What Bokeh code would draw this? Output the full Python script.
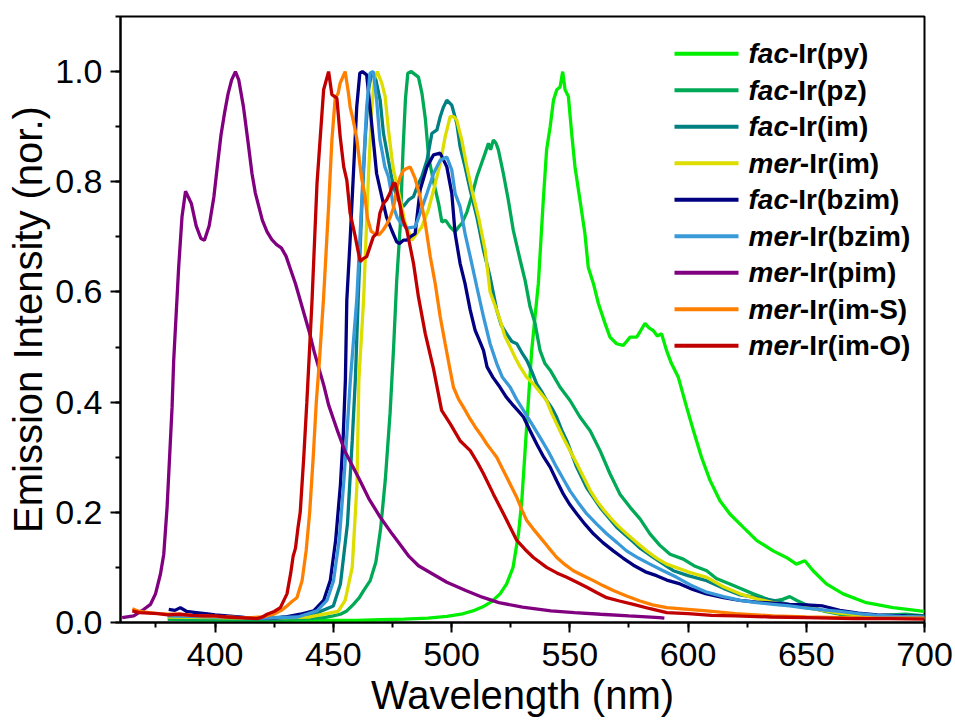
from bokeh.plotting import figure
from bokeh.models import Range1d, SingleIntervalTicker, PrintfTickFormatter, Label
from bokeh.embed import file_html
from bokeh.resources import INLINE

# ---------------- emission spectra (wavelength in nm, normalised intensity) ----------------
py_wl = [380, 390, 400, 410, 420, 430, 440, 450, 460, 470, 480, 490, 498, 504, 509, 513, 517, 520.5,
         523.3, 526, 528.3, 529.7, 531.1, 532.5, 533.9, 535.3, 536.7, 538.8, 540.2, 541.7, 543.1, 544.5,
         545.9, 547, 548, 549.4, 550.8, 552.2, 554.3, 556.4, 557.8, 560, 562.1, 564.9, 567, 569.8, 572.6,
         574, 575.5, 578.3, 580, 581.8, 583.5, 585.3, 587, 588.8, 590.9, 593, 595.9, 599.4, 602.3, 605.7,
         609.3, 613.5, 617.7, 623.3, 629, 636, 641.6, 645.8, 649.4, 652.9, 658.5, 665.6, 675.4, 686.7, 698, 700]
py_int = [0.006, 0.005, 0.004, 0.004, 0.004, 0.004, 0.004, 0.004, 0.004, 0.005, 0.006, 0.008, 0.011, 0.015,
          0.021, 0.028, 0.038, 0.052, 0.07, 0.1, 0.161, 0.221, 0.312, 0.403, 0.494, 0.555, 0.615, 0.767, 0.858,
          0.9, 0.948, 0.967, 0.972, 1.0, 0.967, 0.955, 0.888, 0.827, 0.767, 0.706, 0.645, 0.615, 0.579, 0.543,
          0.518, 0.506, 0.503, 0.51, 0.518, 0.518, 0.53, 0.543, 0.535, 0.53, 0.52, 0.524, 0.494, 0.47, 0.445,
          0.391, 0.348, 0.3, 0.258, 0.221, 0.197, 0.173, 0.149, 0.13, 0.118, 0.106, 0.112, 0.094, 0.07, 0.052,
          0.036, 0.027, 0.021, 0.02]

pz_wl = [380, 400, 420, 440, 446, 450, 453, 455.7, 458.5, 461, 462.8, 465.6, 468, 470, 472, 474, 475.5,
         476.8, 478.3, 479.5, 480.5, 481.5, 483, 484.5, 486, 487.5, 488.9, 490.3, 492.4, 494.5, 495.9, 497.5,
         499.4, 501.5, 503, 504.3, 506.5, 508.6, 510.7, 512.8, 514.2, 515.6, 516.5, 517.7, 518.8, 519.8,
         521.9, 524, 526.1, 529, 531.1, 533.2, 535.3, 537.4, 539.5, 541.7, 545.9, 550.1, 554.3, 558.6, 562.8,
         567, 571.2, 575.5, 579.7, 583.9, 588.1, 592.4, 598, 603, 607.9, 612, 617.7, 622, 627.6, 632, 636,
         640, 643, 646, 649, 653, 658, 664, 672, 678, 686, 692, 700]
pz_int = [0.006, 0.005, 0.005, 0.007, 0.009, 0.012, 0.015, 0.021, 0.033, 0.045, 0.058, 0.076, 0.11, 0.17,
          0.26, 0.38, 0.5, 0.62, 0.72, 0.86, 0.95, 0.997, 1.0, 0.995, 0.99, 0.96, 0.915, 0.845, 0.8, 0.761,
          0.727, 0.73, 0.718, 0.709, 0.718, 0.724, 0.745, 0.775, 0.809, 0.835, 0.852, 0.87, 0.858, 0.876, 0.87,
          0.858, 0.815, 0.767, 0.712, 0.658, 0.621, 0.573, 0.543, 0.494, 0.47, 0.458, 0.427, 0.403, 0.373,
          0.348, 0.312, 0.27, 0.233, 0.209, 0.188, 0.161, 0.14, 0.124, 0.115, 0.102, 0.094, 0.08, 0.07, 0.062,
          0.052, 0.045, 0.039, 0.042, 0.047, 0.04, 0.034, 0.027, 0.02, 0.015, 0.013, 0.012, 0.014, 0.015, 0.012]

im_wl = [380, 400, 420, 440, 450, 453, 456, 458, 459.3, 460.5, 462, 463.5, 465, 466.3, 468, 469.8, 471.2,
         473.3, 475.4, 477.5, 479.6, 481.8, 483.9, 486, 487.4, 489.6, 491.7, 493.8, 495.2, 496.5, 498, 500.1,
         502.2, 503.6, 505.7, 507.9, 510.7, 513.5, 516.3, 519.1, 521, 523.3, 525.5, 527.6, 529.7, 531.8, 534,
         536, 538, 540.2, 542.3, 544.4, 546.5, 548.7, 552.9, 557.1, 562.8, 569.8, 576.9, 580, 585.3, 593.8,
         600, 607.9, 615, 622, 629, 636, 643, 650, 657, 664, 672, 680, 690, 700]
im_int = [0.012, 0.01, 0.008, 0.012, 0.03, 0.07, 0.18, 0.33, 0.44, 0.585, 0.75, 0.88, 0.97, 1.0, 0.985,
          0.948, 0.888, 0.839, 0.791, 0.767, 0.755, 0.767, 0.773, 0.797, 0.809, 0.839, 0.888, 0.894, 0.918,
          0.935, 0.948, 0.939, 0.906, 0.864, 0.827, 0.785, 0.736, 0.676, 0.627, 0.567, 0.54, 0.524, 0.51,
          0.506, 0.49, 0.476, 0.455, 0.433, 0.42, 0.403, 0.39, 0.373, 0.35, 0.33, 0.282, 0.245, 0.209, 0.173,
          0.146, 0.134, 0.118, 0.094, 0.085, 0.076, 0.062, 0.05, 0.045, 0.04, 0.032, 0.027, 0.022, 0.018,
          0.015, 0.013, 0.011, 0.01]

mim_wl = [380, 400, 420, 440, 452, 455, 458, 460, 460.8, 462.8, 464.9, 466.3, 467.5, 468.6, 470.5, 471.9,
          473.3, 474.7, 475.5, 476.8, 478.3, 480.4, 481.8, 483.2, 485.3, 487.4, 490.2, 492.4, 495.2, 497.3,
          499.4, 501, 502.2, 504.3, 506.5, 508.6, 511.4, 514.2, 516.3, 519.1, 520.5, 522.5, 524.8, 527, 529,
          531.8, 534.6, 537.4, 540.2, 542.3, 544.4, 547.3, 550.1, 553, 555.8, 558.6, 561.4, 564.2, 567, 570.5,
          574, 578.3, 582.5, 586.7, 591, 600, 607.9, 615, 622, 629, 636, 643, 650, 657, 664, 672, 680, 690, 700]
mim_int = [0.01, 0.009, 0.008, 0.01, 0.02, 0.04, 0.1, 0.25, 0.44, 0.585, 0.815, 0.936, 0.99, 1.0, 0.979,
           0.955, 0.895, 0.845, 0.82, 0.797, 0.767, 0.724, 0.71, 0.694, 0.706, 0.718, 0.749, 0.785, 0.833,
           0.882, 0.918, 0.918, 0.912, 0.876, 0.827, 0.785, 0.736, 0.676, 0.6, 0.567, 0.549, 0.52, 0.5, 0.48,
           0.464, 0.445, 0.433, 0.418, 0.403, 0.38, 0.361, 0.335, 0.312, 0.288, 0.264, 0.24, 0.221, 0.205,
           0.191, 0.175, 0.161, 0.145, 0.13, 0.117, 0.106, 0.092, 0.082, 0.065, 0.052, 0.043, 0.036, 0.031,
           0.027, 0.022, 0.017, 0.014, 0.012, 0.01, 0.009]

bz_wl = [380.4, 383, 385.3, 388, 392, 396, 400, 405, 410, 415, 420, 425, 430, 436, 441.7, 445.9, 448.7, 451,
         453, 454.2, 455.1, 455.7, 457.1, 458.5, 459.9, 461.2, 462.3, 464.1, 465.5, 466.9, 468.3, 470.5, 472.5,
         474.7, 476.8, 478, 479.6, 481.1, 482.5, 484.6, 486.7, 489.6, 492.4, 495.2, 498, 500.1, 501.5, 503.6,
         505.7, 507.9, 510, 511.5, 513.5, 515, 517.5, 520.5, 523, 525.5, 528, 530.4, 533, 536, 539, 541.7,
         544.5, 547.3, 550, 553, 556.5, 560, 564, 568.4, 572.5, 576.9, 582, 586.7, 591, 596.6, 602, 607.8,
         615, 622, 629, 636, 643, 650, 657, 664.2, 672, 680, 692.4, 700]
bz_int = [0.024, 0.022, 0.027, 0.02, 0.018, 0.016, 0.014, 0.012, 0.01, 0.008, 0.008, 0.008, 0.01, 0.015,
          0.021, 0.04, 0.076, 0.15, 0.25, 0.34, 0.44, 0.585, 0.694, 0.815, 0.936, 0.997, 1.0, 0.994, 0.936,
          0.876, 0.815, 0.773, 0.736, 0.712, 0.691, 0.688, 0.694, 0.694, 0.7, 0.706, 0.785, 0.827, 0.849, 0.852,
          0.827, 0.779, 0.706, 0.652, 0.615, 0.567, 0.53, 0.515, 0.494, 0.464, 0.445, 0.427, 0.41, 0.397,
          0.385, 0.373, 0.35, 0.324, 0.3, 0.282, 0.257, 0.233, 0.214, 0.197, 0.178, 0.161, 0.145, 0.13, 0.117,
          0.104, 0.092, 0.085, 0.077, 0.07, 0.06, 0.052, 0.045, 0.04, 0.037, 0.035, 0.033, 0.032, 0.03, 0.022,
          0.017, 0.014, 0.012, 0.011]

mbz_wl = [380, 400, 420, 435, 443.1, 447.3, 450.1, 452.5, 454.5, 456, 457.2, 459.9, 461.2, 462.6, 464.1,
          465.5, 466.9, 468.3, 469.7, 470.5, 471.8, 473.3, 474.5, 475.4, 477, 478.3, 481.1, 484.6, 486.7,
          489.6, 492.4, 495.2, 498, 500.1, 501.5, 503.6, 505.7, 507.9, 510.7, 513.5, 516.3, 519.1, 521.5,
          524.8, 527.5, 530.4, 534, 537.4, 541, 544.4, 547.3, 550.1, 553.5, 557.2, 561.5, 565.6, 570, 574, 579,
          583.9, 589.5, 595.2, 601, 607.9, 615, 622, 629, 636, 643, 650, 657, 664, 672, 680, 690, 700]
mbz_int = [0.012, 0.01, 0.008, 0.01, 0.021, 0.04, 0.076, 0.15, 0.26, 0.36, 0.44, 0.585, 0.694, 0.815, 0.936,
           0.997, 1.0, 0.95, 0.876, 0.858, 0.827, 0.809, 0.78, 0.755, 0.735, 0.727, 0.716, 0.718, 0.743, 0.779,
           0.815, 0.839, 0.845, 0.821, 0.779, 0.755, 0.706, 0.664, 0.609, 0.555, 0.506, 0.47, 0.445, 0.427,
           0.405, 0.385, 0.36, 0.336, 0.31, 0.282, 0.26, 0.239, 0.218, 0.197, 0.178, 0.161, 0.145, 0.13, 0.117,
           0.106, 0.094, 0.082, 0.068, 0.055, 0.047, 0.04, 0.036, 0.033, 0.03, 0.026, 0.023, 0.02, 0.016,
           0.013, 0.011, 0.01]

pim_wl = [360.7, 365.6, 369.9, 372.7, 374.8, 376.9, 378.3, 379.7, 381.8, 382.5, 384.6, 386, 387.5, 390, 392,
          394, 395.5, 397.5, 399.5, 401, 402.5, 404, 405.5, 407, 408.6, 410, 412, 414, 415.6, 417, 418.5, 420,
          422, 424, 426, 428, 430, 432, 434, 436, 438, 440, 442, 444, 446, 448, 450, 452, 455, 458, 461, 465,
          470, 475, 478, 482, 486, 492, 498, 506, 513, 520, 530, 542, 552, 563, 575, 588, 590]
pim_int = [0.009, 0.012, 0.024, 0.033, 0.052, 0.088, 0.124, 0.209, 0.39, 0.476, 0.645, 0.736, 0.783, 0.76,
           0.72, 0.697, 0.694, 0.72, 0.773, 0.83, 0.885, 0.925, 0.96, 0.985, 1.0, 0.985, 0.936, 0.87, 0.815,
           0.78, 0.755, 0.73, 0.709, 0.695, 0.686, 0.68, 0.665, 0.64, 0.615, 0.585, 0.555, 0.525, 0.49, 0.46,
           0.43, 0.395, 0.37, 0.345, 0.31, 0.285, 0.26, 0.225, 0.19, 0.16, 0.143, 0.12, 0.103, 0.088, 0.073,
           0.058, 0.046, 0.036, 0.028, 0.021, 0.018, 0.015, 0.012, 0.009, 0.008]

ims_wl = [365, 368, 372, 376, 380, 385, 390, 395, 400, 405, 410, 415, 420, 424.8, 428, 430.4, 432.5, 434.6,
          436.8, 438.5, 440, 441.5, 442.8, 444.2, 445.9, 448, 449.4, 450.8, 452, 452.9, 454, 455, 456.4, 457.1,
          458.5, 459.9, 461, 462, 463.4, 464.4, 466, 467.5, 469.4, 471, 472.5, 474, 475.4, 477, 478.3, 479.7,
          481, 482.5, 484.6, 486.7, 488.9, 491, 493.1, 495.2, 497.3, 499.4, 500.8, 503, 505, 507.5, 510, 512.5,
          514.9, 517, 519.1, 521.2, 523.3, 525.5, 527.6, 529.7, 531.8, 534.5, 537.4, 541, 544.5, 548, 551.5,
          555.7, 560, 564, 568.4, 574, 579.7, 585, 591, 600, 607.9, 620, 636, 650, 665, 680, 700]
ims_int = [0.025, 0.02, 0.018, 0.016, 0.015, 0.015, 0.013, 0.012, 0.011, 0.01, 0.009, 0.009, 0.01, 0.015,
           0.022, 0.03, 0.038, 0.045, 0.076, 0.13, 0.2, 0.3, 0.4, 0.48, 0.591, 0.755, 0.876, 0.952, 0.96, 0.979,
           0.99, 1.0, 0.961, 0.936, 0.91, 0.879, 0.84, 0.806, 0.773, 0.735, 0.71, 0.706, 0.704, 0.712, 0.722,
           0.735, 0.752, 0.79, 0.809, 0.821, 0.824, 0.827, 0.806, 0.773, 0.724, 0.664, 0.615, 0.555, 0.506,
           0.458, 0.427, 0.405, 0.391, 0.372, 0.355, 0.34, 0.324, 0.312, 0.3, 0.282, 0.264, 0.245, 0.227, 0.205,
           0.185, 0.17, 0.155, 0.136, 0.118, 0.105, 0.094, 0.085, 0.076, 0.067, 0.058, 0.048, 0.039, 0.032,
           0.027, 0.024, 0.021, 0.016, 0.012, 0.01, 0.009, 0.008, 0.008]

imo_wl = [365, 368, 372, 376, 380, 385, 390, 395, 400, 405, 410, 415, 417.7, 420, 422, 425, 427.6, 430.4,
          432, 433, 434, 435, 436, 437.5, 438.8, 440, 441, 443.1, 445.9, 448, 449.4, 451.5, 452.9, 454.4,
          455.7, 457.1, 459.3, 460.2, 461.4, 462.5, 464.1, 466.9, 468.4, 469.7, 471.2, 472.5, 474, 475.3, 476.2,
          478.1, 479.5, 481.1, 483.9, 486, 488.9, 492.4, 495.8, 499.4, 503.6, 507.9, 511, 513.5, 517.7, 522,
          524.8, 527.6, 531, 534.6, 540.2, 544.5, 548.7, 553, 557.2, 561.5, 565.6, 571, 576.9, 584, 591, 600,
          610, 620, 635, 650, 670, 685, 700]
imo_int = [0.021, 0.018, 0.017, 0.016, 0.014, 0.015, 0.013, 0.012, 0.012, 0.01, 0.009, 0.008, 0.007, 0.01,
           0.015, 0.02, 0.027, 0.052, 0.09, 0.12, 0.135, 0.17, 0.2, 0.3, 0.4, 0.5, 0.585, 0.797, 0.967, 1.0,
           0.958, 0.952, 0.882, 0.827, 0.803, 0.743, 0.7, 0.68, 0.655, 0.66, 0.664, 0.7, 0.706, 0.743, 0.761,
           0.767, 0.78, 0.797, 0.797, 0.76, 0.73, 0.712, 0.652, 0.591, 0.524, 0.46, 0.385, 0.361, 0.33, 0.312,
           0.29, 0.27, 0.233, 0.197, 0.173, 0.149, 0.133, 0.118, 0.1, 0.09, 0.082, 0.073, 0.064, 0.054, 0.045,
           0.039, 0.033, 0.025, 0.018, 0.016, 0.013, 0.012, 0.01, 0.009, 0.007, 0.007, 0.006]

# legend entries: (isomer prefix, complex, colour, wavelengths, intensities)
series = [
    ("fac", "-Ir(py)", "#00EE00", py_wl, py_int),
    ("fac", "-Ir(pz)", "#00A955", pz_wl, pz_int),
    ("fac", "-Ir(im)", "#008080", im_wl, im_int),
    ("mer", "-Ir(im)", "#DDDD00", mim_wl, mim_int),
    ("fac", "-Ir(bzim)", "#000080", bz_wl, bz_int),
    ("mer", "-Ir(bzim)", "#3A9AD9", mbz_wl, mbz_int),
    ("mer", "-Ir(pim)", "#800080", pim_wl, pim_int),
    ("mer", "-Ir(im-S)", "#FF8000", ims_wl, ims_int),
    ("mer", "-Ir(im-O)", "#C00000", imo_wl, imo_int),
]

X_START, X_END = 360, 700
Y_START, Y_END = 0.0, 1.1
FONT = "Liberation Sans"

# canvas geometry (pixels)
W, H = 955, 720
LEFT, RIGHT, TOP, BOTTOM = 120, 31, 16, 98
FRAME_W = W - LEFT - RIGHT
FRAME_H = H - TOP - BOTTOM

p = figure(width=W, height=H, output_backend="svg", toolbar_location=None,
           x_range=Range1d(X_START, X_END), y_range=Range1d(Y_START, Y_END),
           min_border_left=LEFT, min_border_right=RIGHT,
           min_border_top=TOP, min_border_bottom=BOTTOM)
p.background_fill_color = "white"
p.border_fill_color = "white"
p.outline_line_color = "black"
p.outline_line_width = 2
p.xgrid.visible = False
p.ygrid.visible = False

p.xaxis.ticker = SingleIntervalTicker(interval=50, num_minor_ticks=2)
p.yaxis.ticker = SingleIntervalTicker(interval=0.2, num_minor_ticks=2)
p.yaxis.formatter = PrintfTickFormatter(format="%.1f")
p.xaxis.axis_label = "Wavelength (nm)"
p.yaxis.axis_label = "Emission Intensity (nor.)"

for ax in (p.xaxis, p.yaxis):
    ax.axis_line_color = "black"
    ax.axis_line_width = 2
    ax.major_tick_line_color = "black"
    ax.major_tick_line_width = 2
    ax.minor_tick_line_color = "black"
    ax.minor_tick_line_width = 2
    ax.major_tick_out = 10
    ax.major_tick_in = 0
    ax.minor_tick_out = 5
    ax.minor_tick_in = 0
    ax.major_label_text_font = FONT
    ax.major_label_text_font_size = "34px"
    ax.major_label_text_color = "black"
    ax.axis_label_text_font = FONT
    ax.axis_label_text_font_size = "40px"
    ax.axis_label_text_font_style = "normal"
    ax.axis_label_text_color = "black"

p.xaxis.major_label_standoff = 10
p.xaxis.axis_label_standoff = 4
p.yaxis.major_label_standoff = 8
p.yaxis.axis_label_standoff = 2

for prefix, name, color, wl, inten in series:
    p.line(wl, inten, line_color=color, line_width=3.3)


# legend drawn in data space (the ranges are fixed)
def px_x(px):
    return X_START + (px - LEFT) * (X_END - X_START) / FRAME_W


def px_y(py):
    return Y_END - (py - TOP) * (Y_END - Y_START) / FRAME_H


LEG_FS = 28
LEG_ROW0, LEG_STEP = 53.3, 36.5
SW_X0, SW_X1, TXT_X = 674, 738, 748
# advance widths (em) of the bold-italic prefixes in Liberation Sans
PREFIX_EM = {"fac": 0.333 + 0.556 + 0.556, "mer": 0.889 + 0.556 + 0.389}

for i, (prefix, name, color, wl, inten) in enumerate(series):
    yy = px_y(LEG_ROW0 + i * LEG_STEP)
    p.segment(x0=px_x(SW_X0), y0=yy, x1=px_x(SW_X1), y1=yy, line_color=color, line_width=4)
    p.add_layout(Label(x=px_x(TXT_X), y=yy, text=prefix, text_font=FONT,
                       text_font_size=f"{LEG_FS}px", text_font_style="bold italic",
                       text_baseline="middle", text_align="left", text_color="black"))
    p.add_layout(Label(x=px_x(TXT_X + PREFIX_EM[prefix] * LEG_FS), y=yy, text=name, text_font=FONT,
                       text_font_size=f"{LEG_FS}px", text_font_style="bold",
                       text_baseline="middle", text_align="left", text_color="black"))

open("out.html", "w").write(file_html(p, INLINE))
